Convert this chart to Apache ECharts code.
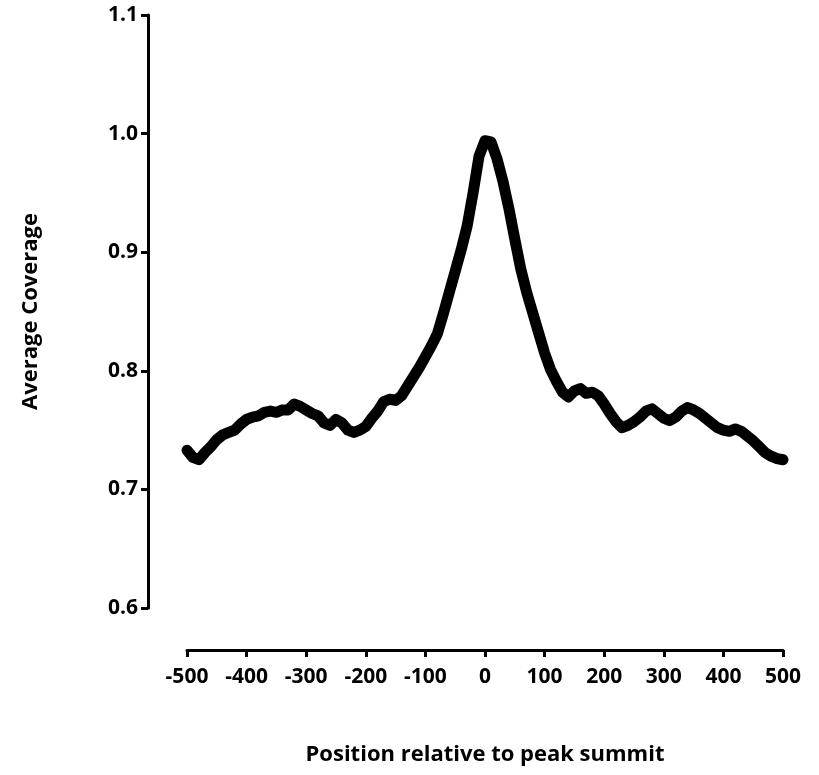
<!DOCTYPE html>
<html>
<head>
<meta charset="utf-8">
<script src="https://cdn.jsdelivr.net/npm/echarts@6/dist/echarts.min.js"></script>
<style>
  html, body { margin: 0; padding: 0; background: #fff; }
  #chart { width: 819px; height: 775px; }
</style>
</head>
<body>
<div id="chart"></div>
<script>
// Distance from the peak summit (bp), sampled every 10 bp
const positions = [];
for (let p = -500; p <= 500; p += 10) positions.push(p);

// Average coverage at each position
const coverage = [
  0.733, 0.727, 0.725, 0.731, 0.736, 0.742, 0.746, 0.748, 0.750, 0.755,
  0.759, 0.761, 0.762, 0.765, 0.766, 0.765, 0.767, 0.767, 0.772, 0.770,
  0.767, 0.764, 0.762, 0.756, 0.754, 0.759, 0.756, 0.750, 0.748, 0.750,
  0.753, 0.760, 0.766, 0.774, 0.776, 0.775, 0.779, 0.787, 0.795, 0.803,
  0.812, 0.821, 0.831, 0.848, 0.866, 0.884, 0.902, 0.922, 0.950, 0.981,
  0.994, 0.993, 0.979, 0.960, 0.937, 0.911, 0.886, 0.866, 0.849, 0.832,
  0.815, 0.801, 0.791, 0.782, 0.778, 0.783, 0.785, 0.781, 0.782, 0.779,
  0.772, 0.764, 0.757, 0.752, 0.754, 0.757, 0.761, 0.766, 0.768, 0.764,
  0.760, 0.758, 0.761, 0.766, 0.769, 0.767, 0.764, 0.760, 0.756, 0.752,
  0.750, 0.749, 0.751, 0.749, 0.745, 0.741, 0.736, 0.731, 0.728, 0.726,
  0.725
];

const xTitle = 'Position relative to peak summit';
const yTitle = 'Average Coverage';

const font = '"Open Sans", "DejaVu Sans", sans-serif';

const chart = echarts.init(document.getElementById('chart'), null, { renderer: 'canvas' });

chart.setOption({
  backgroundColor: '#ffffff',
  animation: false,
  grid: { left: 187, right: 36, top: 15, bottom: 167, outerBoundsMode: 'none' },
  xAxis: {
    type: 'value',
    min: -500,
    max: 500,
    interval: 100,
    offset: 42,
    name: xTitle,
    nameLocation: 'middle',
    nameGap: 94,
    nameTextStyle: { fontFamily: font, fontWeight: 'bold', fontSize: 22, color: '#000' },
    axisLine: { onZero: false, lineStyle: { color: '#000', width: 3 } },
    axisTick: { length: 7, lineStyle: { color: '#000', width: 3 } },
    axisLabel: { fontFamily: font, fontWeight: 'bold', fontSize: 21, color: '#000', margin: 17 },
    splitLine: { show: false }
  },
  yAxis: {
    type: 'value',
    min: 0.6,
    max: 1.1,
    interval: 0.1,
    offset: 39,
    name: yTitle,
    nameLocation: 'middle',
    nameGap: 106,
    nameRotate: 90,
    nameTextStyle: { fontFamily: font, fontWeight: 'bold', fontSize: 22, color: '#000' },
    axisLine: { show: true, onZero: false, lineStyle: { color: '#000', width: 3 } },
    axisTick: { show: true, length: 7, lineStyle: { color: '#000', width: 3 } },
    axisLabel: {
      fontFamily: font, fontWeight: 'bold', fontSize: 21, color: '#000', margin: 10,
      formatter: v => v.toFixed(1)
    },
    splitLine: { show: false }
  },
  series: [{
    type: 'line',
    data: positions.map((p, i) => [p, coverage[i]]),
    showSymbol: false,
    smooth: false,
    clip: false,
    lineStyle: { color: '#000', width: 11, cap: 'round', join: 'round' }
  }]
});
</script>
</body>
</html>
